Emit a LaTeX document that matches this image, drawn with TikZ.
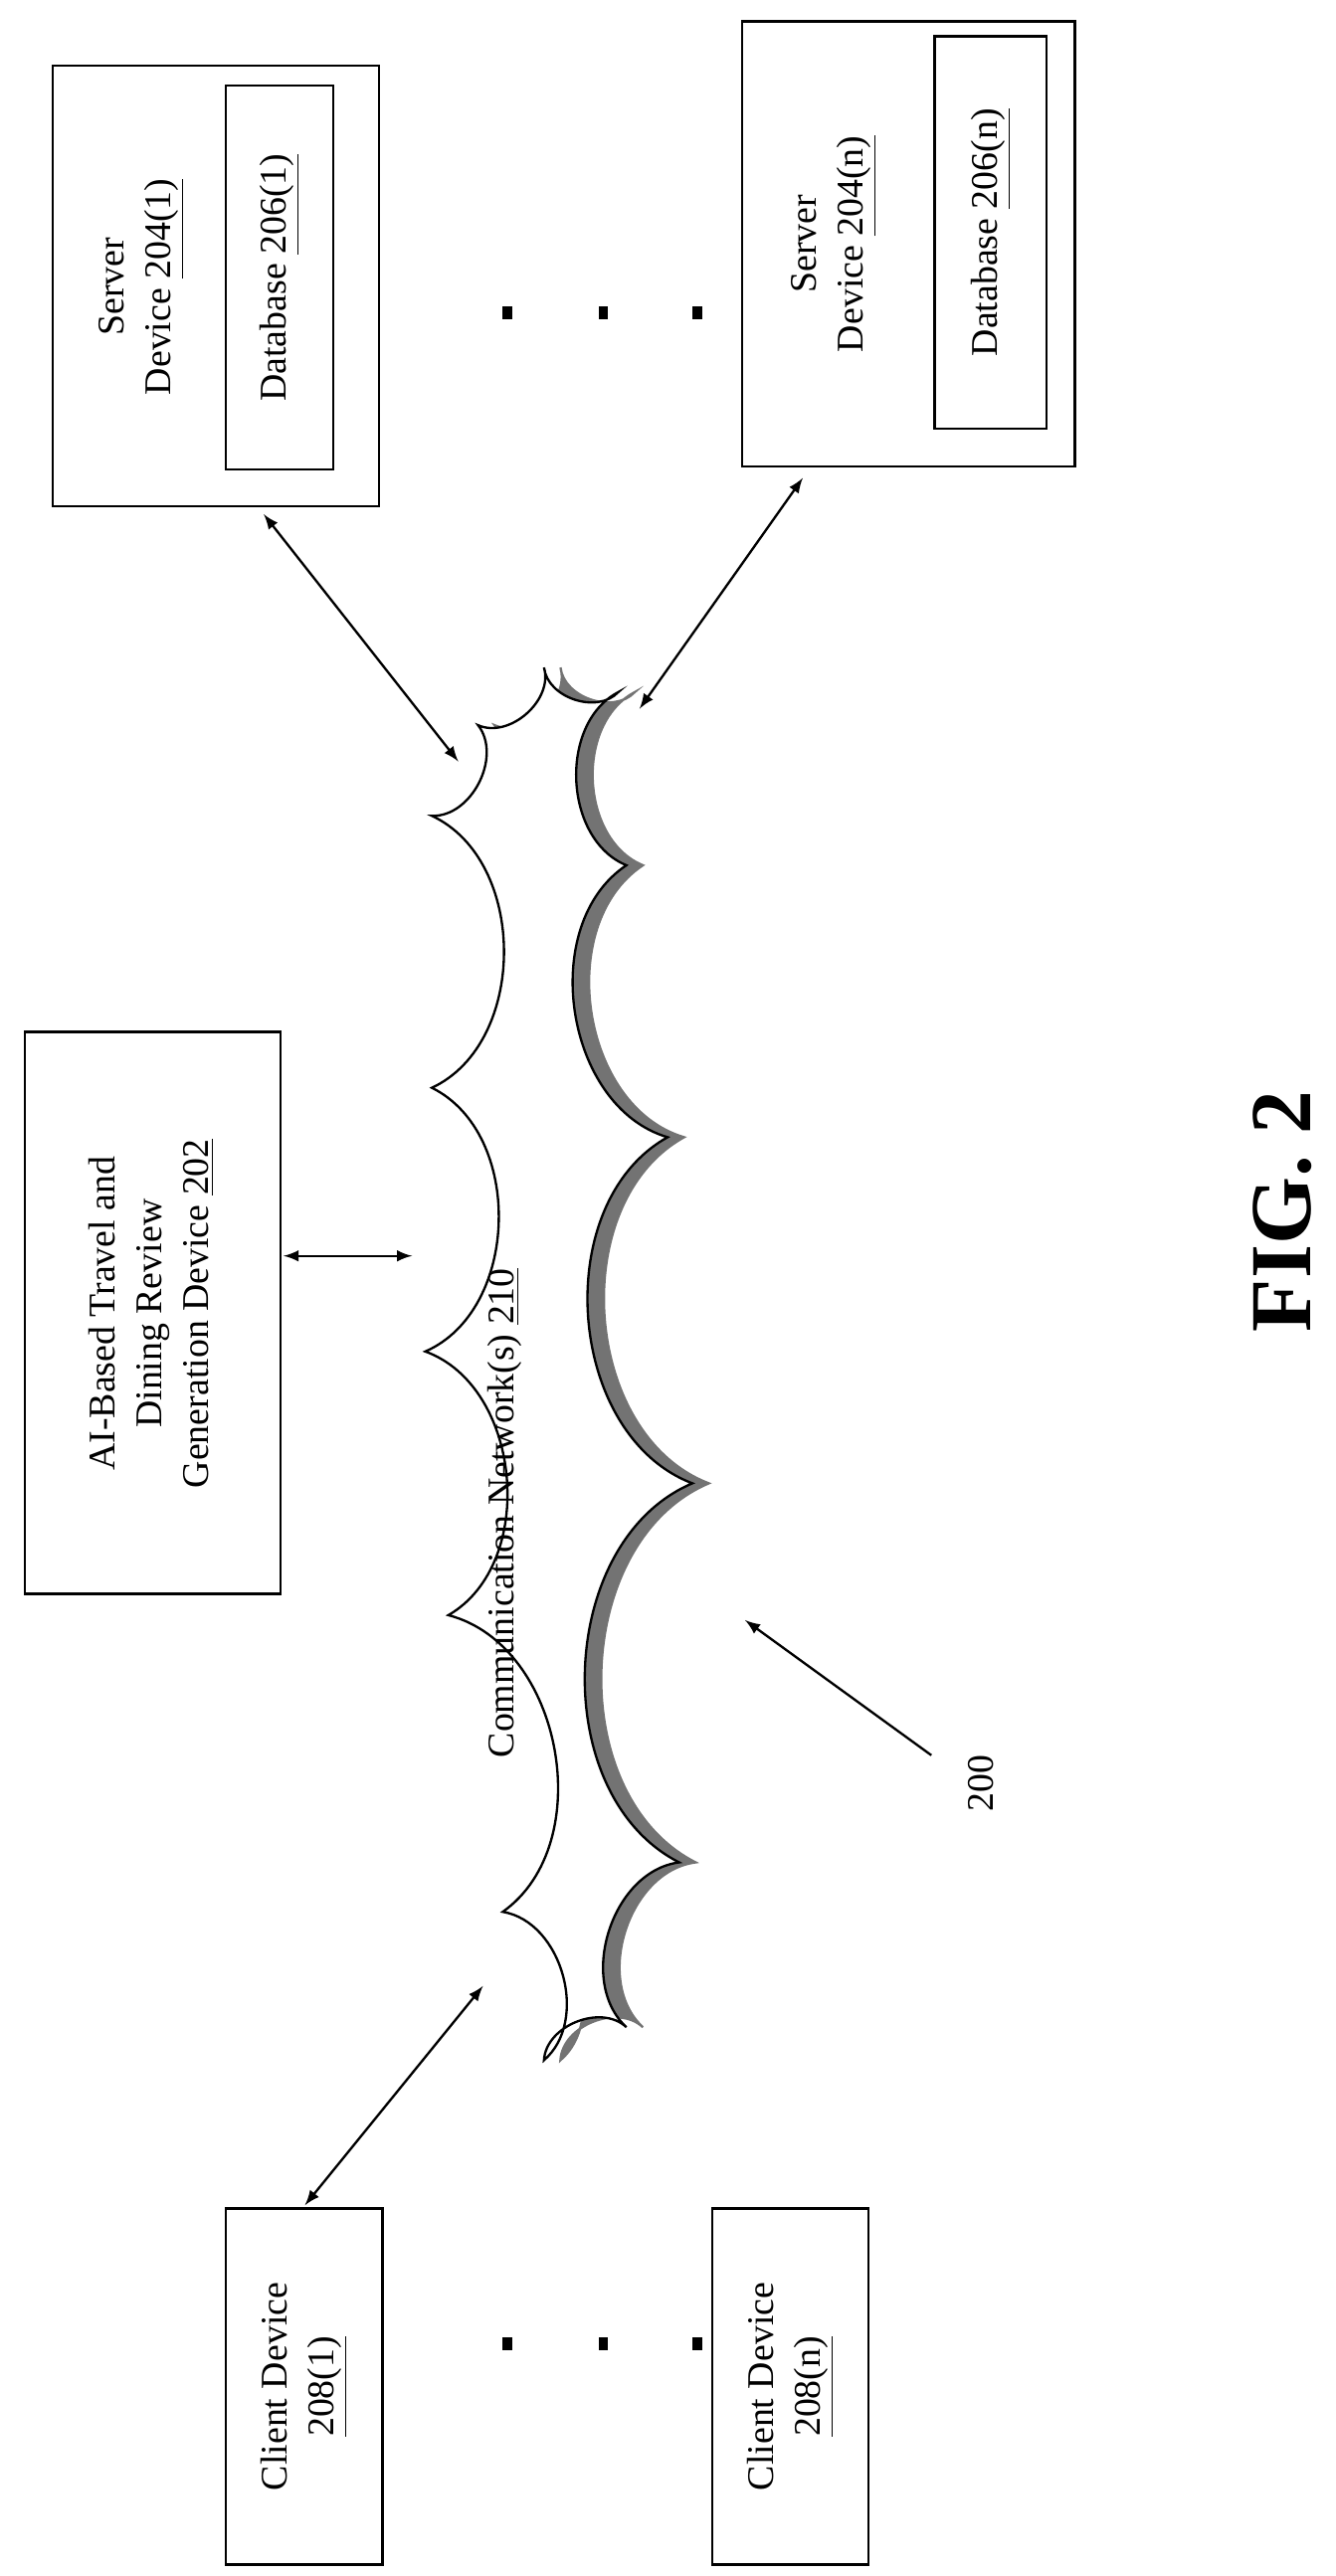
\documentclass[tikz,border=0pt]{standalone}
\usepackage{fontspec}
\setmainfont{Liberation Serif}
\tikzset{
  lbl/.style={rotate=90,align=center,font=\fontsize{13}{16}\selectfont},
  link/.style={<->,>=latex,thick},
  puff/.style={bend right=65},
}
\begin{document}
\begin{tikzpicture}[x=0.02cm,y=0.02cm]
			\useasboundingbox (0,0) rectangle (810,-1563);
			% servers
			\draw[thick] (32,-40) rectangle (230,-307);
			\draw[thick] (137,-52) rectangle (202,-285);
			\node[lbl] (db1) at (169.5,-168.5) {Database \underline{206(1)}};
			\node[lbl] (srv1) at (86,-174) {Server\\Device \underline{204(1)}};
			\draw[thick] (450,-13) rectangle (652,-283);
			\draw[thick] (567,-22) rectangle (635,-260);
			\node[lbl] (dbn) at (601,-141) {Database \underline{206(n)}};
			\node[lbl] (srvn) at (506,-148) {Server\\Device \underline{204(n)}};
			\foreach \x in {305,363,420} \fill (\x,-186) rectangle +(6,-8);
			% AI device
			\draw[thick] (15,-626) rectangle (170,-967);
			\node[lbl] (ai) at (92,-797) {AI-Based Travel and\\Dining Review\\Generation Device \underline{202}};
			% clients
			\draw[thick] (137,-1340) rectangle (232,-1556);
			\node[lbl] (cl1) at (184.5,-1448) {Client Device\\\underline{208(1)}};
			\draw[thick] (432,-1340) rectangle (527,-1556);
			\node[lbl] (cln) at (479.5,-1448) {Client Device\\\underline{208(n)}};
			\foreach \x in {305,363,420} \fill (\x,-1418) rectangle +(6,-8);
			% network cloud
			\foreach \dx/\col/\edge in {10/gray!90!black/gray!90!black,0/white/black}{
			  \begin{scope}[xshift=\dx*0.02cm]
			  \filldraw[fill=\col,draw=\edge,thick]
			    (330,-405) to[puff] (375,-420) to[puff] (380,-525) to[puff] (405,-690)
			    to[puff] (420,-900) to[puff] (412,-1130) to[puff] (380,-1230)
			    to[puff] (330,-1250) to[puff] (305,-1160) to[puff] (272,-980)
			    to[puff] (258,-820) to[puff] (262,-660) to[puff] (262,-495)
			    to[puff] (290,-440) to[puff] cycle;
			  \end{scope}}
			\node[lbl] (net) at (306,-918) {Communication Network(s) \underline{210}};
			% links
			\coordinate (a1) at (160,-312); \coordinate (b1) at (278,-462);
			\coordinate (a2) at (487,-290); \coordinate (b2) at (388,-430);
			\coordinate (a3) at (172,-762); \coordinate (b3) at (250,-762);
			\coordinate (a4) at (293,-1205); \coordinate (b4) at (185,-1338);
			\draw[link] (a1) -- (b1);
			\draw[link] (a2) -- (b2);
			\draw[link] (a3) -- (b3);
			\draw[link] (a4) -- (b4);
			\node[lbl] (ref) at (595,-1082) {200};
			\coordinate (r1) at (565,-1065);
			\coordinate (r2) at (452,-983);
			\draw[->,>=latex,thick] (r1) -- (r2);
			\node[rotate=90,font=\bfseries\fontsize{30}{36}\selectfont] (fig) at (778,-735) {FIG. 2};
		\end{tikzpicture}
\end{document}
